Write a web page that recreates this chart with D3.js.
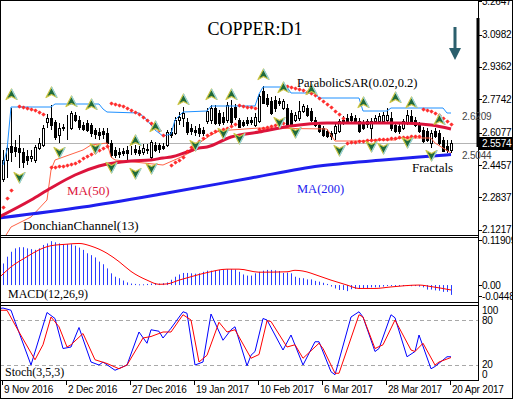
<!DOCTYPE html>
<html>
<head>
<meta charset="utf-8">
<script src="https://cdn.jsdelivr.net/npm/d3@7"></script>
<style>
  body { margin: 0; background: #fff; }
  svg { display: block; }
</style>
</head>
<body>
<svg id="chart" width="513" height="399"></svg>
<script>
// bottom axis
const tickIdx = [1, 17, 33, 49, 65, 81, 97, 113];
const tickLabels = ["9 Nov 2016", "2 Dec 2016", "27 Dec 2016", "19 Jan 2017", "10 Feb 2017", "6 Mar 2017", "28 Mar 2017", "20 Apr 2017"];

// right axis labels
const priceTicks = [3.2647, 3.0982, 2.9362, 2.7742, 2.6077, 2.4457, 2.2837, 2.1217];
const macdTicks = [0.11909, 0, -0.0448];
const macdTickLabels = ["0.11909", "0.00", "-0.0448"];
const stochTicks = [100, 80, 20, 0];

// daily candles (one per bar)
const open = [2.386, 2.376, 2.471, 2.541, 2.536, 2.531, 2.511, 2.491, 2.481, 2.471,
  2.531, 2.546, 2.661, 2.681, 2.661, 2.596, 2.631, 2.631, 2.631, 2.696,
  2.671, 2.646, 2.656, 2.646, 2.621, 2.611, 2.616, 2.606, 2.556, 2.521,
  2.511, 2.516, 2.521, 2.521, 2.526, 2.521, 2.511, 2.526, 2.486, 2.546,
  2.546, 2.541, 2.546, 2.611, 2.606, 2.671, 2.681, 2.661, 2.631, 2.621,
  2.631, 2.621, 2.666, 2.671, 2.731, 2.706, 2.686, 2.671, 2.731, 2.736,
  2.671, 2.661, 2.671, 2.671, 2.646, 2.666, 2.816, 2.781, 2.766, 2.771,
  2.766, 2.731, 2.731, 2.706, 2.671, 2.681, 2.716, 2.731, 2.716, 2.671,
  2.646, 2.631, 2.616, 2.606, 2.606, 2.616, 2.671, 2.681, 2.691, 2.681,
  2.666, 2.656, 2.651, 2.631, 2.666, 2.666, 2.666, 2.671, 2.681, 2.646,
  2.641, 2.631, 2.656, 2.691, 2.671, 2.646, 2.621, 2.616, 2.556, 2.616,
  2.606, 2.571, 2.541, 2.521];
const high = [2.396, 2.521, 2.546, 2.731, 2.571, 2.596, 2.531, 2.521, 2.521, 2.546,
  2.581, 2.646, 2.700, 2.746, 2.671, 2.656, 2.651, 2.696, 2.716, 2.711,
  2.691, 2.661, 2.671, 2.656, 2.631, 2.631, 2.631, 2.631, 2.571, 2.536,
  2.531, 2.531, 2.541, 2.541, 2.546, 2.541, 2.551, 2.551, 2.571, 2.561,
  2.556, 2.556, 2.621, 2.631, 2.686, 2.711, 2.736, 2.681, 2.651, 2.641,
  2.651, 2.636, 2.731, 2.746, 2.746, 2.721, 2.711, 2.761, 2.771, 2.751,
  2.681, 2.671, 2.686, 2.686, 2.706, 2.801, 2.841, 2.801, 2.786, 2.791,
  2.781, 2.776, 2.751, 2.721, 2.711, 2.766, 2.751, 2.746, 2.731, 2.686,
  2.656, 2.641, 2.626, 2.616, 2.651, 2.676, 2.691, 2.701, 2.706, 2.696,
  2.681, 2.671, 2.676, 2.681, 2.696, 2.706, 2.711, 2.731, 2.711, 2.661,
  2.656, 2.676, 2.721, 2.721, 2.686, 2.661, 2.636, 2.631, 2.621, 2.631,
  2.621, 2.586, 2.571, 2.571];
const low = [2.296, 2.361, 2.381, 2.461, 2.486, 2.431, 2.431, 2.446, 2.461, 2.456,
  2.521, 2.536, 2.631, 2.621, 2.571, 2.556, 2.616, 2.571, 2.621, 2.661,
  2.621, 2.616, 2.611, 2.586, 2.576, 2.571, 2.576, 2.546, 2.481, 2.481,
  2.481, 2.491, 2.471, 2.496, 2.496, 2.491, 2.496, 2.501, 2.476, 2.511,
  2.506, 2.521, 2.536, 2.581, 2.596, 2.646, 2.636, 2.596, 2.596, 2.591,
  2.586, 2.591, 2.651, 2.651, 2.646, 2.641, 2.646, 2.656, 2.646, 2.671,
  2.631, 2.636, 2.641, 2.646, 2.636, 2.656, 2.751, 2.736, 2.696, 2.711,
  2.741, 2.721, 2.636, 2.636, 2.661, 2.666, 2.706, 2.686, 2.661, 2.636,
  2.606, 2.586, 2.581, 2.571, 2.571, 2.606, 2.646, 2.656, 2.661, 2.651,
  2.606, 2.621, 2.631, 2.576, 2.656, 2.656, 2.651, 2.656, 2.616, 2.606,
  2.601, 2.621, 2.646, 2.656, 2.636, 2.606, 2.556, 2.561, 2.531, 2.581,
  2.546, 2.511, 2.506, 2.506];
const close = [2.311, 2.471, 2.531, 2.511, 2.516, 2.511, 2.461, 2.471, 2.491, 2.536,
  2.556, 2.631, 2.681, 2.646, 2.586, 2.631, 2.636, 2.633, 2.706, 2.671,
  2.636, 2.626, 2.621, 2.606, 2.601, 2.596, 2.601, 2.556, 2.496, 2.496,
  2.501, 2.506, 2.506, 2.519, 2.511, 2.506, 2.531, 2.521, 2.561, 2.521,
  2.526, 2.531, 2.611, 2.596, 2.671, 2.686, 2.706, 2.611, 2.616, 2.611,
  2.606, 2.606, 2.716, 2.731, 2.656, 2.656, 2.661, 2.746, 2.661, 2.686,
  2.636, 2.646, 2.656, 2.661, 2.686, 2.791, 2.756, 2.751, 2.706, 2.731,
  2.756, 2.766, 2.646, 2.646, 2.696, 2.716, 2.741, 2.696, 2.671, 2.646,
  2.616, 2.596, 2.591, 2.591, 2.641, 2.666, 2.656, 2.666, 2.671, 2.666,
  2.616, 2.631, 2.666, 2.666, 2.681, 2.691, 2.696, 2.696, 2.631, 2.616,
  2.616, 2.666, 2.696, 2.666, 2.646, 2.616, 2.566, 2.571, 2.606, 2.591,
  2.556, 2.516, 2.521, 2.5574];
const lastPrice = 2.5574;

// moving averages (read at points along the line)
const ma50Idx = [0, 8, 13, 19, 25, 33, 38, 41, 43, 47, 50, 52, 58, 65, 73, 82, 92, 100, 108, 113];
const ma50Val = [2.186, 2.271, 2.331, 2.396, 2.441, 2.466, 2.471, 2.481, 2.486, 2.511, 2.531, 2.536, 2.586, 2.611, 2.641, 2.656, 2.656, 2.656, 2.646, 2.626];
const ma200Idx = [0, 21, 42, 63, 80, 96, 105, 113];
const ma200Val = [2.181, 2.236, 2.306, 2.381, 2.441, 2.471, 2.486, 2.498];
const ma50Last = 2.6209, ma200Last = 2.5044;

// Donchian channel (13)
const dcUpIdx = [1, 2, 3, 13, 14, 25, 26, 27, 35, 37, 39, 41, 43, 44, 46, 52, 53, 64, 65, 66, 72, 73, 79, 80, 90, 91, 97, 98, 111, 112, 113];
const dcUpVal = [2.446, 2.521, 2.736, 2.736, 2.751, 2.751, 2.726, 2.711, 2.706, 2.671, 2.621, 2.591, 2.601, 2.671, 2.711, 2.716, 2.741, 2.741, 2.801, 2.836, 2.836, 2.806, 2.806, 2.781, 2.781, 2.716, 2.716, 2.731, 2.731, 2.706, 2.706];
const dcLoIdx = [1, 3, 8, 12, 13, 14, 21, 23, 27, 28, 29, 41, 45, 49, 50, 53, 55, 58, 65, 82, 83, 84, 92, 93, 99, 100, 108, 109, 111, 113];
const dcLoVal = [2.071, 2.136, 2.186, 2.271, 2.421, 2.471, 2.521, 2.546, 2.556, 2.486, 2.471, 2.446, 2.481, 2.521, 2.556, 2.596, 2.616, 2.621, 2.631, 2.626, 2.596, 2.566, 2.566, 2.571, 2.571, 2.581, 2.581, 2.556, 2.531, 2.506];

// parabolic SAR, one dot per bar (null = no dot)
const sar = [null, 2.236, 2.281, 2.321, null, 2.741, 2.736, 2.731, 2.726, 2.721,
  2.711, 2.701, null, 2.436, 2.436, 2.441, 2.441, 2.446, 2.451, 2.456,
  2.466, 2.481, 2.491, 2.501, 2.511, 2.521, 2.531, 2.541, 2.756, 2.751,
  2.746, 2.741, 2.731, 2.721, 2.711, 2.701, 2.686, 2.671, 2.656, 2.636,
  2.621, 2.596, null, 2.446, 2.461, 2.471, 2.486, 2.516, 2.536, 2.551,
  2.566, 2.581, 2.596, 2.606, 2.616, 2.621, 2.626, 2.631, 2.641, 2.651,
  2.746, 2.741, 2.738, 2.734, 2.731, 2.626, 2.631, 2.636, 2.641, 2.646,
  2.651, 2.656, 2.841, 2.836, 2.831, 2.826, 2.821, 2.811, 2.806, 2.796,
  2.781, 2.766, 2.751, 2.736, 2.716, 2.701, 2.681, 2.556, 2.561, 2.561,
  2.566, 2.566, 2.571, 2.571, 2.571, 2.576, 2.576, 2.576, 2.581, 2.581,
  2.586, 2.586, 2.586, 2.591, 2.591, 2.591, 2.726, 2.721, 2.716, 2.706,
  2.696, 2.681, 2.666, 2.651];

// fractals
const fracUpIdx = [3, 13, 18, 23, 34, 39, 46, 53, 58, 66, 71, 78, 91, 99, 103, 110];
const fracUpVal = [2.796, 2.806, 2.761, 2.746, 2.566, 2.636, 2.771, 2.796, 2.796, 2.896, 2.831, 2.821, 2.756, 2.781, 2.756, 2.671];
const fracDnIdx = [5, 15, 24, 28, 34, 38, 49, 56, 60, 70, 74, 85, 93, 96, 102, 108];
const fracDnVal = [2.386, 2.511, 2.531, 2.436, 2.406, 2.431, 2.546, 2.606, 2.581, 2.661, 2.611, 2.521, 2.541, 2.531, 2.561, 2.496];

// MACD(12,26,9)
const macdHist = [0.045, 0.057, 0.075, 0.088, 0.097, 0.100, 0.100, 0.097, 0.095, 0.093,
  0.097, 0.106, 0.110, 0.116, 0.113, 0.110, 0.108, 0.108, 0.108, 0.104,
  0.099, 0.093, 0.084, 0.079, 0.073, 0.062, 0.055, 0.044, 0.031, 0.022,
  0.018, 0.012, 0.007, 0.004, 0.003, 0.002, 0.002, 0.003, 0.004, 0.005,
  0.004, 0.005, 0.007, 0.014, 0.022, 0.028, 0.032, 0.032, 0.031, 0.030,
  0.031, 0.035, 0.038, 0.038, 0.038, 0.040, 0.041, 0.042, 0.042, 0.041,
  0.035, 0.028, 0.025, 0.025, 0.031, 0.035, 0.038, 0.040, 0.040, 0.039,
  0.037, 0.032, 0.033, 0.031, 0.022, 0.019, 0.018, 0.015, 0.015, 0.011,
  0.009, 0.006, 0.003, -0.004, -0.009, -0.013, -0.013, -0.016, -0.011, -0.010,
  -0.010, -0.008, -0.008, -0.006, -0.006, -0.006, -0.004, -0.002, -0.001, -0.001,
  -0.001, -0.002, -0.002, -0.003, -0.002, -0.004, -0.006, -0.012, -0.012, -0.014,
  -0.015, -0.018, -0.018, -0.026];
const sigIdx = [0, 3, 7, 10, 13, 17, 20, 23, 27, 30, 33, 37, 40, 42, 45, 48, 52, 57, 60, 65, 72, 74, 76, 80, 83, 87, 90, 94, 98, 105, 108, 113];
const sigVal = [0.019, 0.048, 0.075, 0.093, 0.104, 0.108, 0.110, 0.103, 0.084, 0.062, 0.036, 0.013, 0.002, 0.003, 0.013, 0.022, 0.033, 0.042, 0.042, 0.034, 0.035, 0.039, 0.037, 0.024, 0.013, 0.000, -0.009, -0.009, -0.005, 0.000, -0.004, -0.013];

// Stochastic(3,5,3)
const kIdx = [0, 1, 3, 4, 8, 12, 14, 16, 18, 20, 23, 25, 26, 29, 32, 35, 37, 38, 40, 41, 43, 46, 47, 49, 51, 53, 56, 58, 59, 62, 63, 64, 66, 67, 71, 73, 76, 79, 80, 83, 84, 88, 90, 91, 94, 95, 98, 99, 102, 104, 105, 108, 109, 112, 113];
const kVal = [95, 96, 93, 78, 20, 90, 82, 42, 44, 70, 24, 20, 24, 13, 20, 64, 49, 67, 65, 56, 69, 91, 89, 20, 24, 88, 53, 67, 71, 19, 33, 38, 82, 80, 40, 60, 20, 51, 51, 11, 7, 84, 91, 84, 38, 42, 87, 83, 31, 38, 60, 15, 18, 31, 31];
const dIdx = [0, 2, 5, 9, 11, 13, 15, 17, 18, 21, 24, 27, 30, 32, 36, 38, 41, 43, 46, 48, 50, 52, 55, 57, 59, 63, 65, 67, 68, 72, 74, 76, 80, 81, 84, 85, 90, 91, 94, 96, 99, 103, 104, 106, 109, 110, 113];
const dVal = [93, 93, 64, 27, 47, 84, 71, 44, 47, 62, 27, 22, 15, 20, 56, 58, 64, 64, 87, 80, 24, 33, 77, 64, 67, 29, 34, 79, 78, 44, 47, 29, 49, 42, 9, 9, 87, 84, 42, 47, 80, 40, 38, 49, 20, 24, 30];

// ---------- layout ----------
const svg = d3.select("#chart");
const axisX = 478;
const sansFont = "'Liberation Sans', Arial, sans-serif";
const serifFont = "'Liberation Serif', 'Times New Roman', serif";

const x = d3.scaleLinear().domain([0, 113]).range([-1, 451]);
const yMain = d3.scaleLinear().domain([2.1, 3.271]).range([234.2, 0]);
const yMacd = d3.scaleLinear().domain([-0.0448, 0.11909]).range([302, 240]);
const yStoch = d3.scaleLinear().domain([0, 100]).range([380, 305]);

const defs = svg.append("defs");
function addClip(id, y0, y1) {
  defs.append("clipPath").attr("id", id).append("rect")
    .attr("x", 1).attr("y", y0).attr("width", axisX - 1).attr("height", y1 - y0);
}
addClip("clipMain", 1, 235);
addClip("clipMacd", 238, 302);
addClip("clipStoch", 306, 380);

svg.append("rect").attr("width", 513).attr("height", 399).attr("fill", "#fff");

// ---------- main panel ----------
const gMain = svg.append("g").attr("clip-path", "url(#clipMain)");

// current price line
gMain.append("line")
  .attr("x1", 0).attr("x2", axisX)
  .attr("y1", Math.round(yMain(lastPrice)) + 0.5).attr("y2", Math.round(yMain(lastPrice)) + 0.5)
  .attr("stroke", "#b4b4b4");

const bars = d3.range(open.length).map(i => ({ i: i, o: open[i], h: high[i], l: low[i], c: close[i] }));

gMain.selectAll(".wick").data(bars).join("line").attr("class", "wick")
  .attr("x1", d => x(d.i) + 0.5).attr("x2", d => x(d.i) + 0.5)
  .attr("y1", d => Math.round(yMain(d.h))).attr("y2", d => Math.round(yMain(d.l)))
  .attr("stroke", "#000");

gMain.selectAll(".body").data(bars).join("rect").attr("class", "body")
  .attr("x", d => x(d.i) - 0.5)
  .attr("y", d => Math.round(yMain(Math.max(d.o, d.c))) + 0.5)
  .attr("width", 2)
  .attr("height", d => Math.max(0, Math.round(yMain(Math.min(d.o, d.c))) - Math.round(yMain(Math.max(d.o, d.c)))))
  .attr("fill", d => (d.c >= d.o ? "#fff" : "#000"))
  .attr("stroke", "#000");

function drawLine(g, idx, val, yScale, color, width, curve) {
  const pts = idx.map((k, j) => [x(k), yScale(val[j])]);
  g.append("path")
    .attr("d", d3.line().curve(curve || d3.curveLinear)(pts))
    .attr("fill", "none").attr("stroke", color).attr("stroke-width", width)
    .attr("stroke-linejoin", "round");
}

// Donchian channel
drawLine(gMain, dcUpIdx, dcUpVal, yMain, "#1e90ff", 1);
drawLine(gMain, dcLoIdx, dcLoVal, yMain, "#ff6347", 1);

// moving averages
drawLine(gMain, ma200Idx, ma200Val, yMain, "#1f1fee", 3, d3.curveMonotoneX);
drawLine(gMain, ma50Idx, ma50Val, yMain, "#dc143c", 3, d3.curveMonotoneX);

// parabolic SAR dots
const sarPts = sar.map((v, i) => ({ i: i, v: v })).filter(d => d.v !== null);
gMain.selectAll(".sar").data(sarPts).join("path").attr("class", "sar")
  .attr("transform", d => `translate(${x(d.i) + 0.5},${Math.round(yMain(d.v)) + 0.5})`)
  .attr("d", "M0,-1.7L1.7,0L0,1.7L-1.7,0Z")
  .attr("fill", "#ff3030").attr("stroke", "#ff0000").attr("stroke-width", 0.6);

// fractals
const upArrow = "M0,-6L5.5,4.5L0,1.5L-5.5,4.5Z";
const dnArrow = "M0,6L5.5,-4.5L0,-1.5L-5.5,-4.5Z";
function drawFractals(idx, val, shape, edge) {
  const g = gMain.append("g");
  idx.forEach((k, j) => {
    const t = `translate(${x(k) + 0.5},${yMain(val[j])})`;
    g.append("path").attr("transform", t).attr("d", shape)
      .attr("fill", "#1f6a3c").attr("stroke", "#cbc443").attr("stroke-width", 1.2)
      .attr("stroke-linejoin", "round");
    g.append("path").attr("transform", t).attr("d", edge)
      .attr("fill", "none").attr("stroke", "#8fd0e8").attr("stroke-width", 1.2);
  });
}
drawFractals(fracUpIdx, fracUpVal, upArrow, "M0,-6L5.5,4.5");
drawFractals(fracDnIdx, fracDnVal, dnArrow, "M0,6L5.5,-4.5");

// titles and indicator labels
svg.append("text").attr("x", 255).attr("y", 35).attr("text-anchor", "middle")
  .attr("font-family", serifFont).attr("font-size", 18).attr("fill", "#000")
  .text("COPPER:D1");

const labels = [
  { t: "ParabolicSAR(0.02,0.2)", x: 297, y: 87, s: 12.5, c: "#000" },
  { t: "MA(50)", x: 67, y: 195, s: 13, c: "#dc143c" },
  { t: "MA(200)", x: 297, y: 193, s: 12.5, c: "#2222ee" },
  { t: "Fractals", x: 412, y: 172, s: 13, c: "#000" },
  { t: "DonchianChannel(13)", x: 23, y: 230, s: 13, c: "#000" },
  { t: "MACD(12,26,9)", x: 8, y: 298, s: 12, c: "#000" },
  { t: "Stoch(3,5,3)", x: 5, y: 376, s: 12, c: "#000" }
];
labels.forEach(l => {
  svg.append("text").attr("x", l.x).attr("y", l.y)
    .attr("font-family", serifFont).attr("font-size", l.s).attr("fill", l.c).text(l.t);
});

// sell arrow
svg.append("path")
  .attr("d", "M453.5,27h3v21h4.5l-6,12l-6,-12h4.5z")
  .attr("fill", "#2b5f6d");

// ---------- MACD panel ----------
const gMacd = svg.append("g").attr("clip-path", "url(#clipMacd)");
const y0 = yMacd(0);
gMacd.selectAll(".hist").data(macdHist).join("rect").attr("class", "hist")
  .attr("x", (d, i) => x(i))
  .attr("width", 1)
  .attr("y", d => Math.min(y0, yMacd(d)))
  .attr("height", d => Math.max(1, Math.abs(yMacd(d) - y0)))
  .attr("fill", "#2a3cff");
drawLine(gMacd, sigIdx, sigVal, yMacd, "#ff0000", 1, d3.curveMonotoneX);

// ---------- Stochastic panel ----------
const gStoch = svg.append("g").attr("clip-path", "url(#clipStoch)");
[80, 20].forEach(v => {
  gStoch.append("line").attr("x1", 0).attr("x2", axisX)
    .attr("y1", Math.round(yStoch(v)) + 0.5).attr("y2", Math.round(yStoch(v)) + 0.5)
    .attr("stroke", "#a8a8a8").attr("stroke-dasharray", "4,3");
});
drawLine(gStoch, kIdx, kVal, yStoch, "#0000ff", 1);
drawLine(gStoch, dIdx, dVal, yStoch, "#ff0000", 1);

// ---------- frame, separators, axes ----------
const frame = svg.append("g").attr("stroke", "#000").attr("fill", "none");
frame.append("rect").attr("x", 0.5).attr("y", 0.5).attr("width", 512).attr("height", 398);
[235.5, 237.5, 302.5, 305.5, 380.5].forEach(y => {
  frame.append("line").attr("x1", 0).attr("x2", axisX).attr("y1", y).attr("y2", y);
});
frame.append("line").attr("x1", axisX + 0.5).attr("x2", axisX + 0.5).attr("y1", 0).attr("y2", 381);

// price range bar on the axis
svg.append("rect").attr("x", axisX - 1.5).attr("y", yMain(3.181))
  .attr("width", 3).attr("height", yMain(2.536) - yMain(3.181)).attr("fill", "#000");

function axisLabel(txt, y, fill) {
  svg.append("text").attr("x", 482).attr("y", y + 3.5)
    .attr("font-family", sansFont).attr("font-size", 10).attr("letter-spacing", -0.2)
    .attr("fill", fill || "#000").text(txt);
}
function axisTick(y) {
  svg.append("line").attr("x1", axisX).attr("x2", axisX + 4)
    .attr("y1", Math.round(y) + 0.5).attr("y2", Math.round(y) + 0.5).attr("stroke", "#000");
}

priceTicks.forEach(v => { axisTick(yMain(v)); axisLabel(v.toFixed(4), yMain(v)); });

const macdShift = [0, 0, -6];
macdTicks.forEach((v, j) => { axisTick(yMacd(v) + macdShift[j]); axisLabel(macdTickLabels[j], yMacd(v) + macdShift[j]); });

const stochShift = [5, 0, -1, -6];
stochTicks.forEach((v, j) => axisLabel(String(v), yStoch(v) + stochShift[j]));

// MA values written against the axis
[[ma50Last, -14], [ma200Last, 1.7]].forEach(([v, dy]) => {
  svg.append("text").attr("x", 462).attr("y", yMain(v) + dy + 3.5)
    .attr("font-family", sansFont).attr("font-size", 10).attr("letter-spacing", -0.2)
    .attr("fill", "#444").text(v.toFixed(4));
});

// last price box
svg.append("rect").attr("x", axisX).attr("y", Math.round(yMain(lastPrice)) - 6)
  .attr("width", 35).attr("height", 13).attr("fill", "#000");
svg.append("text").attr("x", 482).attr("y", yMain(lastPrice) + 4)
  .attr("font-family", sansFont).attr("font-size", 10).attr("letter-spacing", -0.2)
  .attr("fill", "#fff").text(lastPrice.toFixed(4));

// date axis
tickIdx.forEach((k, j) => {
  const tx = Math.round(x(k)) - 0.5;
  svg.append("line").attr("x1", tx).attr("x2", tx).attr("y1", 380).attr("y2", 385).attr("stroke", "#000");
  svg.append("text").attr("x", x(k) + 1).attr("y", 393)
    .attr("font-family", sansFont).attr("font-size", 10).attr("letter-spacing", -0.2)
    .attr("fill", "#000").text(tickLabels[j]);
});
</script>
</body>
</html>
